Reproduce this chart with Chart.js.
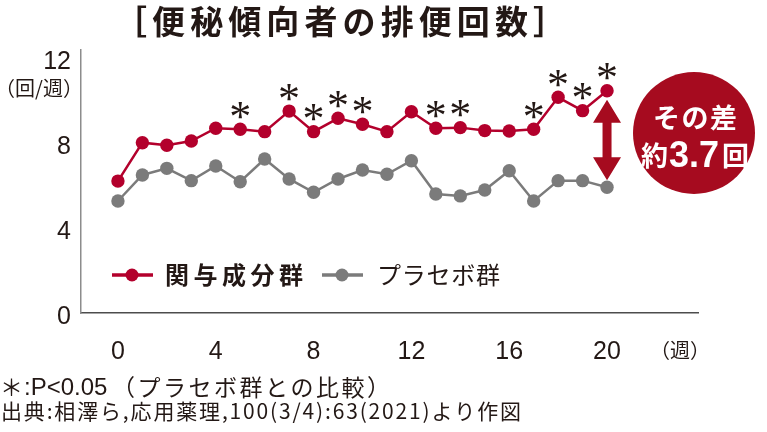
<!DOCTYPE html>
<html>
<head>
<meta charset="utf-8">
<script src="https://cdn.jsdelivr.net/npm/chart.js@4"></script>
<style>
  body { margin: 0; background: #fff; }
  #wrap { width: 767px; height: 432px; }
</style>
</head>
<body>
<div id="wrap"><canvas id="stoolChart" width="767" height="432"></canvas></div>
<script>
// 週ごとの排便回数（回/週）
const weeks = [0, 1, 2, 3, 4, 5, 6, 7, 8, 9, 10, 11, 12, 13, 14, 15, 16, 17, 18, 19, 20];
const activeGroup = [6.22, 8.03, 7.91, 8.11, 8.71, 8.66, 8.55, 9.52, 8.55, 9.18, 8.90, 8.55, 9.49, 8.71, 8.74, 8.60, 8.58, 8.66, 10.17, 9.54, 10.48];
const placeboGroup = [5.28, 6.51, 6.82, 6.24, 6.93, 6.19, 7.26, 6.32, 5.69, 6.32, 6.74, 6.54, 7.18, 5.61, 5.52, 5.80, 6.71, 5.28, 6.24, 6.24, 5.93];
const sigWeeks = [5, 7, 8, 9, 10, 13, 14, 17, 18, 19, 20];
const xTicks = [0, 4, 8, 12, 16, 20];
const yTicks = [0, 4, 8, 12];

const RED = '#b3002c';
const DARK_RED = '#a60b1f';
const GRAY = '#7b7b7b';
const INK = '#231815';
const JP = '"Noto Sans CJK JP", "Noto Sans", sans-serif';
const LAT = '"Liberation Sans", Arial, sans-serif';

// 文字列を指定幅に合わせて描く
function fitText(ctx, text, x, y, width) {
    ctx.letterSpacing = '0px';
    const w0 = ctx.measureText(text).width;
    const n = Array.from(text).length;
    const sp = n > 1 ? (width - w0) / (n - 1) : 0;
    ctx.letterSpacing = sp + 'px';
    ctx.textAlign = 'left';
    ctx.fillText(text, x, y);
    ctx.letterSpacing = '0px';
}

const extras = {
    id: 'extras',
    afterDatasetsDraw(chart) {
        const ctx = chart.ctx;
        const xs = chart.scales.x, ys = chart.scales.y;
        ctx.save();
        ctx.fillStyle = INK;
        ctx.textBaseline = 'middle';

        // title
        ctx.font = 'bold 33px ' + JP;
        fitText(ctx, '［便秘傾向者の排便回数］', 114, 21, 452);

        // axis units
        ctx.font = '20px ' + JP;
        ctx.textAlign = 'center';
        ctx.fillText('（回/週）', 39, 88);
        ctx.fillText('（週）', 680, 350);

        // significance marks
        ctx.font = '44px "Liberation Serif", serif';
        ctx.textBaseline = 'alphabetic';
        ctx.textAlign = 'center';
        const m = ctx.measureText('*');
        const mid = (m.actualBoundingBoxAscent - m.actualBoundingBoxDescent) / 2;
        sigWeeks.forEach(w => {
            const px = xs.getPixelForValue(w);
            const py = ys.getPixelForValue(activeGroup[weeks.indexOf(w)]) - 19;
            ctx.fillText('*', px, py + mid);
        });

        // difference arrow at last week
        const last = weeks[weeks.length - 1];
        const ax = xs.getPixelForValue(last);
        const top = ys.getPixelForValue(activeGroup[activeGroup.length - 1]) + 9;
        const bot = ys.getPixelForValue(placeboGroup[placeboGroup.length - 1]) - 7;
        const hw = 14, hh = 23, sw = 4.5;
        ctx.fillStyle = DARK_RED;
        ctx.beginPath();
        ctx.moveTo(ax, top);
        ctx.lineTo(ax + hw, top + hh);
        ctx.lineTo(ax + sw, top + hh);
        ctx.lineTo(ax + sw, bot - hh);
        ctx.lineTo(ax + hw, bot - hh);
        ctx.lineTo(ax, bot);
        ctx.lineTo(ax - hw, bot - hh);
        ctx.lineTo(ax - sw, bot - hh);
        ctx.lineTo(ax - sw, top + hh);
        ctx.lineTo(ax - hw, top + hh);
        ctx.closePath();
        ctx.fill();

        // badge
        ctx.beginPath();
        ctx.arc(694, 133, 61, 0, Math.PI * 2);
        ctx.fill();
        ctx.fillStyle = '#fff';
        ctx.textBaseline = 'middle';
        ctx.font = 'bold 27px ' + JP;
        fitText(ctx, 'その差', 653, 118, 84);
        ctx.font = 'bold 27px ' + JP;
        ctx.textAlign = 'left';
        ctx.fillText('約', 641, 156);
        ctx.font = 'bold 36px ' + LAT;
        ctx.fillText('3.7', 669, 157);
        ctx.font = 'bold 27px ' + JP;
        ctx.fillText('回', 722, 156);

        // legend
        const items = [
            { label: '関与成分群', color: RED, x: 112, tx: 165, tw: 138, bold: true },
            { label: 'プラセボ群', color: GRAY, x: 322, tx: 377, tw: 123, bold: false }
        ];
        items.forEach(it => {
            ctx.strokeStyle = it.color;
            ctx.fillStyle = it.color;
            ctx.lineWidth = 3.5;
            ctx.beginPath();
            ctx.moveTo(it.x, 275);
            ctx.lineTo(it.x + 41, 275);
            ctx.stroke();
            ctx.beginPath();
            ctx.arc(it.x + 20, 275, 6.5, 0, Math.PI * 2);
            ctx.fill();
            ctx.fillStyle = INK;
            ctx.font = (it.bold ? 'bold ' : '') + '24px ' + JP;
            fitText(ctx, it.label, it.tx, 275, it.tw);
        });

        // footnotes
        ctx.fillStyle = INK;
        ctx.textAlign = 'left';
        ctx.font = '23px ' + JP;
        ctx.fillText('＊', 0, 387);
        ctx.font = '24px ' + LAT;
        ctx.fillText(':P<0.05', 24, 388);
        ctx.font = '23px ' + JP;
        fitText(ctx, '（プラセボ群との比較）', 112, 387, 278);
        ctx.font = '21px ' + JP;
        fitText(ctx, '出典:相澤ら,応用薬理,100(3/4):63(2021)より作図', 1, 411, 520);
        ctx.restore();
    }
};

const ctx = document.getElementById('stoolChart').getContext('2d');

let stoolChart = new Chart(ctx, {
    type: 'line',
    data: {
        datasets: [{
            label: '関与成分群',
            data: weeks.map((w, i) => ({ x: w, y: activeGroup[i] })),
            borderColor: RED,
            backgroundColor: RED,
            borderWidth: 2.5,
            pointRadius: 6.7,
            pointBorderWidth: 0,
            tension: 0
        }, {
            label: 'プラセボ群',
            data: weeks.map((w, i) => ({ x: w, y: placeboGroup[i] })),
            borderColor: GRAY,
            backgroundColor: GRAY,
            borderWidth: 2.5,
            pointRadius: 6.7,
            pointBorderWidth: 0,
            tension: 0
        }]
    },
    options: {
        responsive: false,
        animation: false,
        layout: { padding: { top: 50, right: 69, left: 0, bottom: 0 } },
        scales: {
            x: {
                type: 'linear',
                min: -1.51,
                max: 23.72,
                afterBuildTicks: s => { s.ticks = xTicks.map(v => ({ value: v })); },
                afterFit: s => { s.height = 119; },
                grid: { display: false, drawTicks: false },
                border: { display: true, color: '#4d4d4d', width: 1.5 },
                ticks: {
                    autoSkip: false,
                    maxRotation: 0,
                    padding: 24,
                    color: INK,
                    font: { family: LAT, size: 25 }
                }
            },
            y: {
                min: 0,
                max: 12.4,
                afterBuildTicks: s => { s.ticks = yTicks.map(v => ({ value: v })); },
                afterFit: s => { s.width = 81; },
                grid: { display: false, drawTicks: false },
                border: { display: true, color: '#8c8c8c', width: 1.5 },
                ticks: {
                    padding: 10,
                    labelOffset: 4,
                    color: INK,
                    font: { family: LAT, size: 25 }
                }
            }
        },
        plugins: {
            legend: { display: false },
            tooltip: { enabled: false }
        }
    },
    plugins: [extras]
});
</script>
</body>
</html>
